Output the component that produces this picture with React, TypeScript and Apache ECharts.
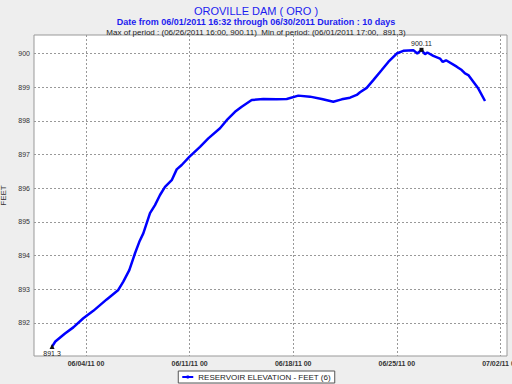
import React, { useEffect, useRef } from "react";
import * as echarts from "echarts";

const TITLE = "OROVILLE DAM ( ORO )";
const SUBTITLE = "Date from 06/01/2011 16:32 through 06/30/2011 Duration : 10 days";
const INFO = "Max of period : (06/26/2011 16:00, 900.11)  Min of period: (06/01/2011 17:00,  891.3)";
const SERIES_NAME = "RESERVOIR ELEVATION - FEET (6)";

const times: string[] = [
  "2011-06-01 17:00", "2011-06-01 22:13", "2011-06-02 13:57", "2011-06-03 03:25", "2011-06-03 19:38",
  "2011-06-04 11:50", "2011-06-05 09:34", "2011-06-06 04:22", "2011-06-06 12:29", "2011-06-06 22:13",
  "2011-06-07 07:28", "2011-06-07 14:26", "2011-06-07 20:55", "2011-06-08 07:47", "2011-06-08 15:53",
  "2011-06-09 00:00", "2011-06-09 08:07", "2011-06-09 18:59", "2011-06-10 03:04", "2011-06-10 11:11",
  "2011-06-10 23:31", "2011-06-11 16:52", "2011-06-12 06:20", "2011-06-13 01:18", "2011-06-13 12:10",
  "2011-06-14 01:38", "2011-06-14 12:29", "2011-06-15 04:42", "2011-06-15 23:31", "2011-06-16 21:14",
  "2011-06-17 13:28", "2011-06-18 08:17", "2011-06-19 03:14", "2011-06-19 22:13", "2011-06-20 17:01",
  "2011-06-21 06:39", "2011-06-21 20:07", "2011-06-22 06:59", "2011-06-22 12:20", "2011-06-22 23:11",
  "2011-06-23 09:53", "2011-06-23 23:31", "2011-06-24 10:13", "2011-06-24 23:50", "2011-06-25 10:32",
  "2011-06-26 02:46", "2011-06-26 09:14", "2011-06-26 16:00", "2011-06-26 21:43", "2011-06-27 01:28",
  "2011-06-27 11:11", "2011-06-27 22:03", "2011-06-28 02:26", "2011-06-28 07:47", "2011-06-29 01:08",
  "2011-06-29 09:14", "2011-06-29 14:35", "2011-06-29 19:57", "2011-06-30 04:03", "2011-06-30 12:10",
  "2011-06-30 23:01",
];

const elevations: number[] = [
  891.3, 891.45, 891.69, 891.87, 892.14,
  892.36, 892.7, 892.98, 893.23, 893.57,
  894.07, 894.41, 894.66, 895.26, 895.5,
  895.8, 896.04, 896.24, 896.56, 896.69,
  896.93, 897.23, 897.48, 897.78, 898.02,
  898.27, 898.42, 898.62, 898.65, 898.64,
  898.65, 898.75, 898.72, 898.65, 898.57,
  898.64, 898.69, 898.77, 898.85, 898.98,
  899.21, 899.51, 899.75, 900.0, 900.08,
  900.1, 900.0, 900.11, 899.98, 900.03,
  899.93, 899.85, 899.75, 899.8, 899.61,
  899.51, 899.41, 899.36, 899.16, 898.96,
  898.59,
];

const xTickTimes: string[] = ["2011-06-04 00:00", "2011-06-11 00:00", "2011-06-18 00:00", "2011-06-25 00:00", "2011-07-02 00:00"];
const yTicks: number[] = [892, 893, 894, 895, 896, 897, 898, 899, 900];
const xRange: string[] = ["2011-05-31 11:40", "2011-07-02 10:40"];
const yRange: number[] = [891.02, 900.55];
const maxPoint = { time: "2011-06-26 16:00", value: 900.11, label: "900.11" };
const minPoint = { time: "2011-06-01 17:00", value: 891.3, label: "891.3" };

function toMs(s: string): number {
  const [d, t] = s.split(" ");
  const [y, m, dd] = d.split("-").map(Number);
  const [hh, mm] = t.split(":").map(Number);
  return Date.UTC(y, m - 1, dd, hh, mm);
}
const pad = (n: number) => (n < 10 ? "0" + n : "" + n);
function fmt(v: number): string {
  const d = new Date(v);
  return `${pad(d.getUTCMonth() + 1)}/${pad(d.getUTCDate())}/${pad(d.getUTCFullYear() % 100)} ${pad(d.getUTCHours())}`;
}

export default function App() {
  const ref = useRef<HTMLDivElement>(null);
  useEffect(() => {
    if (!ref.current) return;
    const chart = echarts.init(ref.current, undefined, { renderer: "svg" });
    const data = times.map((t, i) => [toMs(t), elevations[i]]);
    const font = "Liberation Sans, Arial, sans-serif";
    chart.setOption({
      animation: false,
      backgroundColor: "#eeeeee",
      textStyle: { fontFamily: font },
      title: [
        { text: TITLE, left: "center", top: 0, textStyle: { fontSize: 11, fontWeight: "normal", color: "#1c1cf0", fontFamily: font } },
        { text: SUBTITLE, left: "center", top: 12.5, textStyle: { fontSize: 9, fontWeight: "bold", color: "#1c1cf0", fontFamily: font } },
        { text: INFO, left: "center", top: 23, textStyle: { fontSize: 8, fontWeight: "normal", color: "#222", fontFamily: font } },
      ],
      legend: {
        bottom: 1,
        left: "center",
        data: [SERIES_NAME],
        backgroundColor: "#ffffff",
        borderColor: "#555",
        borderWidth: 1,
        padding: [2, 4, 2, 3],
        itemWidth: 11,
        itemHeight: 4,
        itemGap: 4,
        textStyle: { fontSize: 8, color: "#222", fontFamily: font },
      },
      grid: { left: 34, right: 5, top: 35, bottom: 28, outerBoundsMode: "none", containLabel: false, show: true, backgroundColor: "#ffffff", borderColor: "#999", borderWidth: 1 },
      xAxis: {
        type: "value",
        min: toMs(xRange[0]),
        max: toMs(xRange[1]),
        axisLine: { show: false },
        axisTick: { show: false, customValues: xTickTimes.map(toMs) },
        axisLabel: { customValues: xTickTimes.map(toMs), formatter: (v: number) => fmt(v), fontSize: 7, fontWeight: "bold", color: "#333", margin: 4, fontFamily: font, hideOverlap: false },
        splitLine: { show: true, lineStyle: { type: [2, 2], color: "#999", width: 1 } },
      },
      yAxis: {
        type: "value",
        min: yRange[0],
        max: yRange[1],
        name: "FEET",
        nameLocation: "middle",
        nameGap: 21,
        nameTextStyle: { fontSize: 8, color: "#333", fontFamily: font },
        axisLine: { show: false },
        axisTick: { show: false, customValues: yTicks },
        axisLabel: { customValues: yTicks, fontSize: 7, color: "#333", margin: 4, fontFamily: font },
        splitLine: { show: true, lineStyle: { type: [2, 2], color: "#999", width: 1 } },
      },
      series: [
        {
          name: SERIES_NAME,
          type: "line",
          data,
          showSymbol: false,
          symbol: "circle",
          symbolSize: 3,
          itemStyle: { color: "#0000ff" },
          lineStyle: { color: "#0000ff", width: 2.5 },
          markPoint: {
            data: [
              {
                coord: [toMs(maxPoint.time), maxPoint.value],
                symbol: "rect",
                symbolSize: 4,
                itemStyle: { color: "#111" },
                label: { show: true, position: "top", distance: 1, formatter: maxPoint.label, fontSize: 7, color: "#222", fontFamily: font },
              },
              {
                coord: [toMs(minPoint.time), minPoint.value],
                symbol: "triangle",
                symbolSize: 5,
                itemStyle: { color: "#111" },
                label: { show: true, position: "bottom", distance: 1, formatter: minPoint.label, fontSize: 7, color: "#222", fontFamily: font },
              },
            ],
          },
        },
      ],
    });
    return () => chart.dispose();
  }, []);
  return <div ref={ref} style={{ width: 512, height: 384, position: "absolute", left: 0, top: 0 }} />;
}
